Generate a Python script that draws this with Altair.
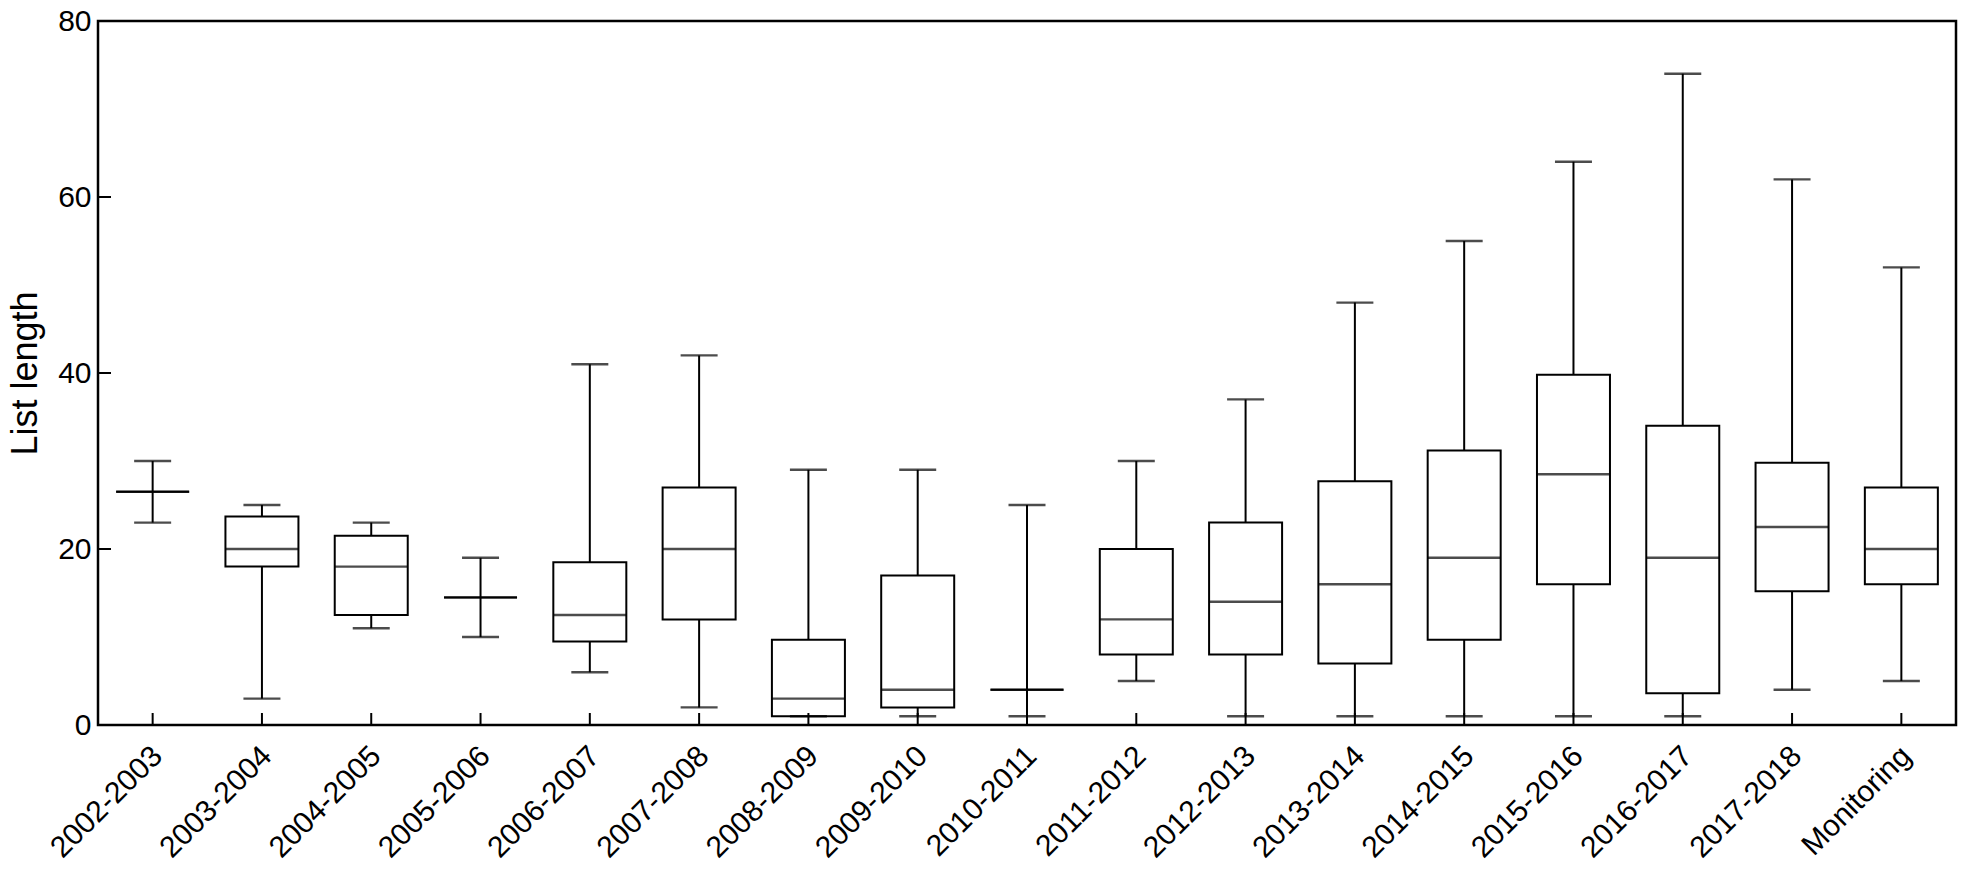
import altair as alt
import pandas as pd

categories = ["2002-2003", "2003-2004", "2004-2005", "2005-2006", "2006-2007",
              "2007-2008", "2008-2009", "2009-2010", "2010-2011", "2011-2012",
              "2012-2013", "2013-2014", "2014-2015", "2015-2016", "2016-2017",
              "2017-2018", "Monitoring"]
mins    = [23, 3, 11, 10, 6, 2, 1, 1, 1, 5, 1, 1, 1, 1, 1, 4, 5]
q1      = [26.5, 18, 12.5, 14.5, 9.5, 12, 1, 2, 4, 8, 8, 7, 9.7, 16, 3.6, 15.2, 16]
medians = [26.5, 20, 18, 14.5, 12.5, 20, 3, 4, 4, 12, 14, 16, 19, 28.5, 19, 22.5, 20]
q3      = [26.5, 23.7, 21.5, 14.5, 18.5, 27, 9.7, 17, 4, 20, 23, 27.7, 31.2, 39.8, 34, 29.8, 27]
maxs    = [30, 25, 23, 19, 41, 42, 29, 29, 25, 30, 37, 48, 55, 64, 74, 62, 52]
y_ticks = [0, 20, 40, 60, 80]

df = pd.DataFrame({"cat": categories, "lo": mins, "q1": q1, "med": medians,
                   "q3": q3, "hi": maxs})
tick_df = pd.DataFrame({"v": y_ticks})

W, H = 1858, 704
FONT = "Liberation Sans"

xenc = alt.X("cat:N", sort=categories,
             scale=alt.Scale(paddingInner=0, paddingOuter=0),
             axis=alt.Axis(title=None, labelAngle=-45, labelAlign="right",
                           labelBaseline="middle", labelPadding=26, labelOffset=5,
                           ticks=False, domain=False, labelFontSize=30,
                           labelFont=FONT, labelColor="black"))
yscale = alt.Scale(domain=[0, 80], nice=False, zero=True)
yenc = alt.Y("lo:Q", scale=yscale,
             axis=alt.Axis(title="List length", values=y_ticks, ticks=False,
                           domain=False, grid=False, labelFontSize=30,
                           labelFont=FONT, labelColor="black", labelPadding=7,
                           titleFontSize=36, titleFont=FONT, titleColor="black",
                           titleFontWeight="normal", titleAngle=-90,
                           titleX=-62, titleY=H / 2, titleAlign="center",
                           titleBaseline="alphabetic"))

base = alt.Chart(df)

whisk = base.mark_rule(color="black", strokeWidth=2).encode(
    x=xenc, y=yenc, y2="hi:Q")
box = base.mark_bar(size=73, fill="white", stroke="black", strokeWidth=2).encode(
    x=alt.X("cat:N", sort=categories), y=alt.Y("q1:Q", scale=yscale), y2="q3:Q")
med = base.mark_tick(size=73, thickness=2.4, color="black", orient="horizontal").encode(
    x=alt.X("cat:N", sort=categories), y=alt.Y("med:Q", scale=yscale))
cap_lo = base.mark_tick(size=37, thickness=2.4, color="black", orient="horizontal").encode(
    x=alt.X("cat:N", sort=categories), y=alt.Y("lo:Q", scale=yscale))
cap_hi = base.mark_tick(size=37, thickness=2.4, color="black", orient="horizontal").encode(
    x=alt.X("cat:N", sort=categories), y=alt.Y("hi:Q", scale=yscale))
xticks = base.mark_rule(color="black", strokeWidth=2).encode(
    x=alt.X("cat:N", sort=categories), y=alt.value(H), y2=alt.value(H - 12))
yticks = alt.Chart(tick_df).mark_rule(color="black", strokeWidth=2).encode(
    y=alt.Y("v:Q", scale=yscale), x=alt.value(0), x2=alt.value(13))

chart = alt.layer(whisk, box, med, cap_lo, cap_hi, xticks, yticks).properties(
    width=W, height=H,
    autosize=alt.AutoSizeParams(type="none"),
    padding={"left": 90, "top": 13, "right": 3, "bottom": 146},
    background="white",
).configure_view(stroke="black", strokeWidth=2.5)

chart.save("out.html", embed_options={"renderer": "svg", "actions": False})
